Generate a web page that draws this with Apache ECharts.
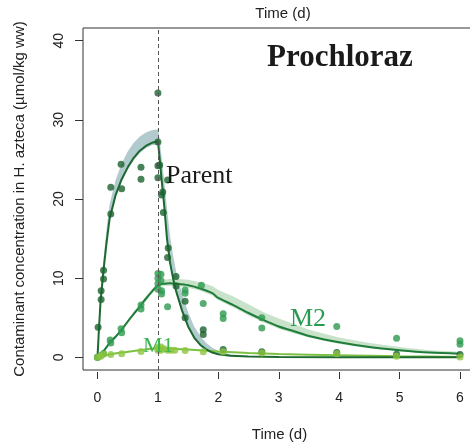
<!DOCTYPE html>
<html><head><meta charset="utf-8">
<script src="https://cdn.jsdelivr.net/npm/echarts@6/dist/echarts.min.js"></script>
<style>html,body{margin:0;padding:0;background:#fff}#c{width:470px;height:447px}</style>
</head><body><div id="c"></div>
<script>
const xTicks = [0, 1, 2, 3, 4, 5, 6];
const yTicks = [0, 10, 20, 30, 40];

// observed points [time (d), concentration]
const parentPoints = [[0,0],[0.01,3.8],[0.06,7.3],[0.06,8.4],[0.10,9.9],[0.10,11.0],[0.22,18.1],[0.22,21.5],
  [0.39,24.4],[0.40,21.3],[0.72,24.0],[0.72,22.5],[1.0,33.4],[1.0,27.2],[1.0,24.2],[1.0,22.7],[1.03,24.3],
  [1.06,20.5],[1.08,20.9],[1.16,22.4],[1.09,18.3],[1.17,13.8],[1.16,12.6],[1.30,10.2],[1.30,9.0],
  [1.45,7.1],[1.45,5.0],[1.75,3.5],[1.75,2.9],[2.08,1.0],[2.72,0.7],[3.96,0.6],[4.95,0.4],[6.0,0.35]];
const m2Points = [[0,0],[0.05,0.2],[0.1,0.5],[0.21,2.2],[0.22,1.8],[0.39,3.6],[0.40,3.1],[0.72,6.6],[0.72,6.1],
  [1.0,10.6],[1.0,10.0],[1.0,9.3],[1.0,8.6],[1.05,10.5],[1.05,9.7],[1.06,8.4],[1.06,8.0],[1.16,6.4],
  [1.45,8.5],[1.45,8.1],[1.72,9.1],[1.75,6.8],[2.08,5.5],[2.08,4.9],[2.72,5.0],[2.72,3.7],[3.96,3.9],
  [4.95,2.4],[6.0,2.1],[6.0,1.65]];
const m1Points = [[0,0],[0.05,0.15],[0.1,0.4],[0.22,0.35],[0.4,0.45],[0.72,0.75],[1.0,1.3],[1.0,0.9],[1.0,1.1],
  [1.05,1.3],[1.05,0.9],[1.1,1.1],[1.16,0.9],[1.22,0.9],[1.28,0.9],[1.45,0.85],[1.75,0.7],[2.08,0.7],
  [2.72,0.55],[3.96,0.45],[4.95,0.15],[6.0,0.05]];

// fitted curves and credible bands
const parentCurveT = [0,0.02,0.05,0.1,0.15,0.2,0.3,0.4,0.5,0.6,0.7,0.8,0.9,1.0,1.03,1.06,1.1,1.15,1.2,1.25,1.3,1.4,1.5,1.6,1.7,1.8,1.9,2.0,2.2,2.5,3,4,5,6];
const parentCurve  = [0,3,7,11,14.5,17.5,20.5,22.5,24,25.2,26.1,26.7,27.1,27.3,25,22.5,19.5,15,12,10,8.4,5.9,3.9,2.5,1.6,1.0,0.6,0.4,0.2,0.1,0.05,0.02,0.01,0];
const parentUpper  = [0,3.6,8.2,12.5,16.2,19.3,22.4,24.5,26,27.1,27.9,28.4,28.7,28.8,27.4,25.3,22.6,18.8,15.4,12.9,10.9,8,5.7,3.9,2.7,1.8,1.2,0.8,0.4,0.18,0.08,0.03,0.01,0];
const parentLower  = [0,2.8,6.7,10.7,14.2,17.2,20.2,22.2,23.7,24.9,25.8,26.4,26.8,26.9,24.6,22,19,14.7,11.6,9.7,8.1,5.6,3.7,2.3,1.4,0.85,0.5,0.3,0.15,0.07,0.03,0.01,0,0];

const m2CurveT = [0,0.1,0.2,0.3,0.4,0.5,0.6,0.7,0.8,0.9,1.0,1.1,1.2,1.3,1.5,1.7,1.9,2.0,2.25,2.5,2.75,3.0,3.25,3.5,4.0,4.5,5.0,5.5,6.0];
const m2Curve  = [0,0.8,1.8,2.6,3.5,4.5,5.5,6.4,7.4,8.3,9.1,9.3,9.35,9.3,9.1,8.7,8.1,7.5,6.6,5.6,4.7,3.9,3.3,2.7,1.9,1.3,0.9,0.6,0.45];
const m2Upper  = [0,0.9,1.9,2.8,3.7,4.7,5.7,6.7,7.7,8.6,9.4,9.8,9.9,9.9,9.8,9.5,9.0,8.5,7.7,6.7,5.7,4.9,4.2,3.5,2.5,1.8,1.3,0.9,0.7];
const m2Lower  = [0,0.7,1.7,2.5,3.4,4.4,5.3,6.2,7.1,8.0,8.8,9.0,9.05,9.0,8.8,8.4,7.8,7.2,6.3,5.3,4.4,3.6,3.0,2.5,1.7,1.15,0.75,0.5,0.35];

const m1CurveT = [0,0.1,0.2,0.4,0.6,0.8,1.0,1.2,1.5,2.0,2.5,3.0,4.0,5.0,6.0];
const m1Curve  = [0,0.2,0.35,0.6,0.8,1.0,1.15,1.1,1.0,0.75,0.55,0.42,0.25,0.13,0.05];

const exposureEnd = 1;

const zip = (t, v) => t.map((x, i) => [x, v[i]]);
const bandRows = (t, lo, up) => t.map((x, i) => [x, lo[i], up[i]]);

function bandSeries(t, lo, up, color) {
  return {
    type: 'custom', silent: true, z: 1,
    data: bandRows(t, lo, up),
    encode: {x: 0, y: [1, 2]},
    renderItem: function (params, api) {
      if (params.dataIndex !== 0) return;
      const pts = [];
      for (let i = 0; i < t.length; i++) pts.push(api.coord([t[i], up[i]]));
      for (let i = t.length - 1; i >= 0; i--) pts.push(api.coord([t[i], lo[i]]));
      return {type: 'polygon', shape: {points: pts, smooth: 0}, style: {fill: color, opacity: 0.9}};
    }
  };
}

const SANS = 'Liberation Sans, Arial, sans-serif';
const SERIF = 'Liberation Serif, Times New Roman, serif';

const chart = echarts.init(document.getElementById('c'), null, {renderer: 'canvas'});
chart.setOption({
  animation: false,
  backgroundColor: '#fff',
  grid: {left: 83, top: 28, width: 391.5, height: 342, show: true, borderColor: '#333', borderWidth: 1,
         backgroundColor: 'transparent', outerBoundsMode: 'none', containLabel: false},
  xAxis: {type: 'value', min: -0.24, max: 6.24, offset: 2, position: 'bottom',
    axisLine: {show: false, onZero: false}, splitLine: {show: false},
    axisTick: {show: true, length: 7, customValues: xTicks, lineStyle: {color: '#333', width: 1}},
    axisLabel: {customValues: xTicks, margin: 19, fontSize: 14, color: '#222', fontFamily: SANS}},
  yAxis: {type: 'value', min: -1.6, max: 41.6, position: 'left',
    axisLine: {show: false, onZero: false}, splitLine: {show: false},
    axisTick: {show: true, length: 8, customValues: yTicks, lineStyle: {color: '#333', width: 1}},
    axisLabel: {customValues: yTicks, rotate: 90, margin: 17, fontSize: 14, color: '#222', fontFamily: SANS}},
  graphic: [
    {type: 'text', x: 283, y: 14, style: {text: 'Time (d)', font: '15px ' + SANS, fill: '#222', align: 'center', verticalAlign: 'middle'}},
    {type: 'text', x: 279.5, y: 435, style: {text: 'Time (d)', font: '15px ' + SANS, fill: '#222', align: 'center', verticalAlign: 'middle'}},
    {type: 'text', x: 20, y: 199, rotation: Math.PI / 2,
     style: {text: 'Contaminant concentration in H. azteca (µmol/kg ww)', font: '15px ' + SANS, fill: '#222', align: 'center', verticalAlign: 'middle'}},
    {type: 'text', x: 340, y: 58, z: 50, style: {text: 'Prochloraz', font: 'bold 31px ' + SERIF, fill: '#1a1a1a', align: 'center', verticalAlign: 'middle'}},
    {type: 'text', x: 166, y: 163, z: 50, style: {text: 'Parent', font: '26px ' + SERIF, fill: '#1a1a1a', align: 'left', verticalAlign: 'alphabetic'}},
    {type: 'text', x: 290, y: 306, z: 50, style: {text: 'M2', font: '26px ' + SERIF, fill: '#2a9a50', align: 'left', verticalAlign: 'alphabetic'}},
    {type: 'text', x: 143, y: 335, z: 50, style: {text: 'M1', font: '22px ' + SERIF, fill: '#3db54f', align: 'left', verticalAlign: 'alphabetic'}}
  ],
  series: [
    bandSeries(parentCurveT, parentLower, parentUpper, '#a9c4c9'),
    bandSeries(m2CurveT, m2Lower, m2Upper, '#c3dfc4'),
    {type: 'line', name: 'M1 fit', data: zip(m1CurveT, m1Curve), showSymbol: false, smooth: 0.3,
     lineStyle: {color: '#7cc142', width: 2}, z: 2},
    {type: 'line', name: 'M2 fit', data: zip(m2CurveT, m2Curve), showSymbol: false, smooth: 0.3,
     lineStyle: {color: '#1f7d3b', width: 2}, z: 2},
    {type: 'line', name: 'Parent fit', data: zip(parentCurveT, parentCurve), showSymbol: false,
     lineStyle: {color: '#1c6a30', width: 2}, z: 2,
     markLine: {silent: true, symbol: ['none', 'none'], label: {show: false},
       lineStyle: {color: '#555', type: [4, 3], width: 1}, data: [{xAxis: exposureEnd}]}},
    {type: 'scatter', name: 'Parent', data: parentPoints, symbolSize: 7, itemStyle: {color: '#1b632e'}, z: 3},
    {type: 'scatter', name: 'M2', data: m2Points, symbolSize: 7, itemStyle: {color: '#2e9a4f'}, z: 3},
    {type: 'scatter', name: 'M1', data: m1Points, symbolSize: 7, itemStyle: {color: '#8cc63f'}, z: 3}
  ]
});
</script>
</body></html>
